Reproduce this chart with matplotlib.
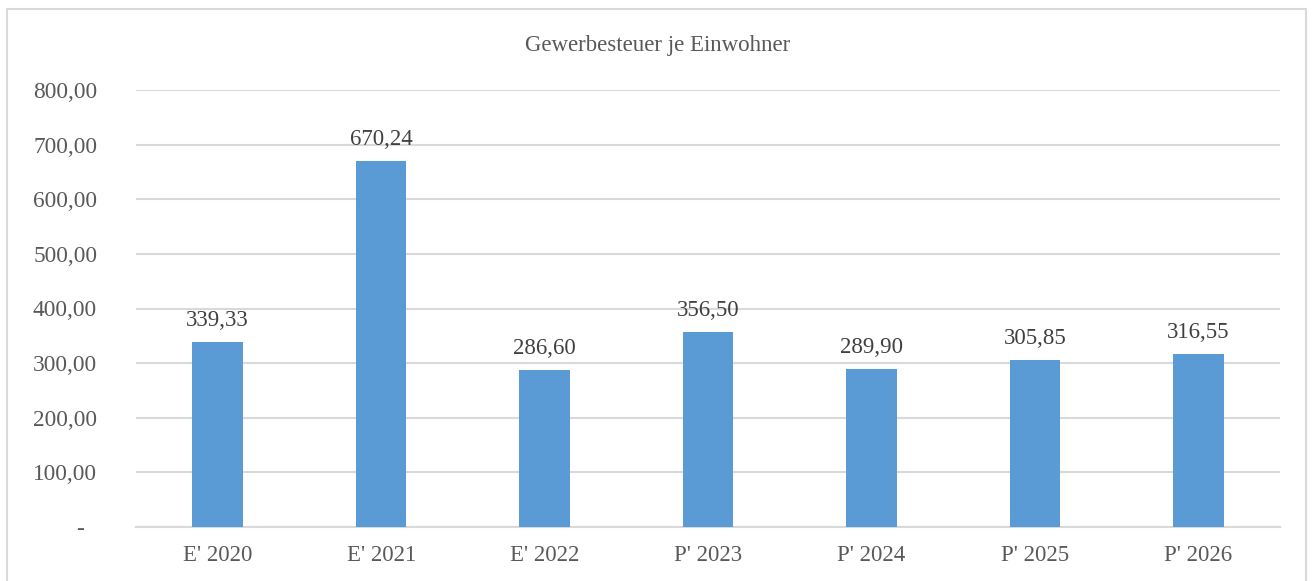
import matplotlib.pyplot as plt
from matplotlib.patches import Rectangle
from matplotlib.ticker import FuncFormatter

# Data
categories = ["E' 2020", "E' 2021", "E' 2022", "P' 2023", "P' 2024", "P' 2025", "P' 2026"]
values = [339.33, 670.24, 286.60, 356.50, 289.90, 305.85, 316.55]
y_ticks = [0, 100, 200, 300, 400, 500, 600, 700, 800]

plt.rcParams['font.family'] = ['Liberation Serif', 'DejaVu Serif']

W, H = 1314, 581
fig = plt.figure(figsize=(W / 100, H / 100), dpi=100)
ax = fig.add_axes([136 / W, 1 - 527 / H, (1280 - 136) / W, (527 - 90) / H])

# outer chart border (bottom edge is cut off in the original)
fig.patches.append(Rectangle((7 / W, -0.05), (1306 - 7) / W, 1.05 - 9 / H,
                             transform=fig.transFigure, fill=False,
                             edgecolor="#d9d9d9", linewidth=1.5))

x = range(len(categories))
bars = ax.bar(x, values, width=0.31, color="#5b9bd5", zorder=3)

def de_fmt(v):
    return "{:,.2f}".format(v).replace(",", "X").replace(".", ",").replace("X", ".")

for xi, v in zip(x, values):
    ax.annotate(de_fmt(v), (xi, v), xytext=(0, 8), textcoords="offset points",
                ha="center", va="bottom", fontsize=16.5, color="#404040")

ax.set_xlim(-0.5, len(categories) - 0.5)
ax.set_ylim(0, 800)
ax.set_yticks(y_ticks)
ax.yaxis.set_major_formatter(FuncFormatter(lambda v, p: "-  " if v == 0 else de_fmt(v)))
ax.set_xticks(list(x))
ax.set_xticklabels(categories)
ax.tick_params(axis="y", length=0, pad=28, labelsize=16.8, labelcolor="#595959")
ax.tick_params(axis="x", length=0, pad=13, labelsize=16.5, labelcolor="#595959")
ax.grid(axis="y", color="#d9d9d9", linewidth=1.5, zorder=0)
for s in ["top", "right", "left"]:
    ax.spines[s].set_visible(False)
ax.spines["bottom"].set_color("#d9d9d9")
ax.spines["bottom"].set_linewidth(1.5)

fig.text(658 / W, 1 - 45 / H, "Gewerbesteuer je Einwohner", ha="center", va="center",
         fontsize=16.5, color="#595959")

fig.savefig("out.png", dpi=100)
